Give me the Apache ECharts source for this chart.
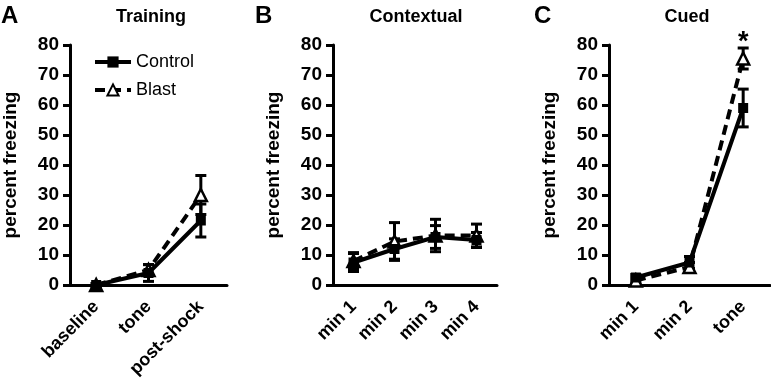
<!DOCTYPE html>
<html>
<head>
<meta charset="utf-8">
<script src="https://cdn.jsdelivr.net/npm/echarts@6/dist/echarts.min.js"></script>
<style>html,body{margin:0;padding:0;background:#fff}#c{width:771px;height:381px}</style>
</head>
<body>
<div id="c"></div>
<script>
// ---- Data ----
const catsA = ['baseline', 'tone', 'post-shock'];
const ctrlA = [0, 4, 21.5];
const ctrlAErr = [0.5, 2.8, 5.5];
const blastA = [0, 5, 30];
const blastAErr = [0.5, 1.8, 6.5];

const catsB = ['min 1', 'min 2', 'min 3', 'min 4'];
const ctrlB = [7.5, 12, 16, 15];
const ctrlBErr = [3, 3.4, 3.8, 2.5];
const blastB = [8, 14.5, 16.5, 16.5];
const blastBErr = [2.8, 6.3, 5.4, 3.8];

const catsC = ['min 1', 'min 2', 'tone'];
const ctrlC = [2.5, 7.5, 59];
const ctrlCErr = [1, 2, 6.3];
const blastC = [1.5, 6, 75.5];
const blastCErr = [1, 1.5, 3.5];

const yTicks = [0, 10, 20, 30, 40, 50, 60, 70, 80];
const panelLetters = ['A', 'B', 'C'];
const panelTitles = ['Training', 'Contextual', 'Cued'];
const seriesNames = ['Control', 'Blast'];
const yTitle = 'percent freezing';
const sigMark = '*';

// ---- Layout ----
const FF = 'Liberation Sans, Arial, Helvetica, sans-serif';
const grids = [
  {left: 70, width: 157},
  {left: 333, width: 164},
  {left: 609, width: 161}
];
const titleX = [151, 416, 687];
const letterX = [1, 255, 534];
const cats = [catsA, catsB, catsC];
const ctrl = [ctrlA, ctrlB, ctrlC];
const ctrlErr = [ctrlAErr, ctrlBErr, ctrlCErr];
const blast = [blastA, blastB, blastC];
const blastErr = [blastAErr, blastBErr, blastCErr];

function errRender(params, api) {
  const x = api.value(0), lo = api.value(1), hi = api.value(2);
  const p1 = api.coord([x, hi]);
  const p2 = api.coord([x, lo]);
  const hw = 5.5;
  const style = {stroke: '#000', lineWidth: 3};
  return {
    type: 'group',
    children: [
      {type: 'line', shape: {x1: p1[0], y1: p1[1], x2: p2[0], y2: p2[1]}, style: style},
      {type: 'line', shape: {x1: p1[0] - hw, y1: p1[1], x2: p1[0] + hw, y2: p1[1]}, style: style},
      {type: 'line', shape: {x1: p2[0] - hw, y1: p2[1], x2: p2[0] + hw, y2: p2[1]}, style: style}
    ]
  };
}

const graphics = [];
for (let i = 0; i < 3; i++) {
  graphics.push({
    type: 'text', x: letterX[i], y: 4,
    style: {text: panelLetters[i], font: 'bold 24px ' + FF, fill: '#000', align: 'left', verticalAlign: 'top'}
  });
  graphics.push({
    type: 'text', x: titleX[i], y: 8,
    style: {text: panelTitles[i], font: 'bold 18px ' + FF, fill: '#000', align: 'center', verticalAlign: 'top'}
  });
}

const option = {
  animation: false,
  backgroundColor: '#fff',
  textStyle: {fontFamily: FF},
  graphic: graphics,
  legend: {
    data: seriesNames,
    orient: 'vertical',
    left: 88,
    top: 48,
    itemWidth: 36,
    itemHeight: 14,
    itemGap: 10,
    selectedMode: false,
    lineStyle: {width: 4},
    textStyle: {fontSize: 18, color: '#000', fontFamily: FF}
  },
  grid: [],
  xAxis: [],
  yAxis: [],
  series: []
};

for (let i = 0; i < 3; i++) {
  option.grid.push({left: grids[i].left, width: grids[i].width, top: 45, height: 240,
    containLabel: false, outerBoundsMode: 'none'});
  option.xAxis.push({
    type: 'category', gridIndex: i, data: cats[i], boundaryGap: true,
    axisLine: {lineStyle: {color: '#000', width: 3}},
    axisTick: {alignWithLabel: true, length: 9, lineStyle: {color: '#000', width: 3}},
    axisLabel: {rotate: 45, interval: 0, margin: 19, fontSize: 18, fontWeight: 'bold', color: '#000', fontFamily: FF},
    splitLine: {show: false}
  });
  option.yAxis.push({
    type: 'value', gridIndex: i, min: yTicks[0], max: yTicks[yTicks.length - 1], interval: yTicks[1] - yTicks[0],
    axisLine: {show: true, lineStyle: {color: '#000', width: 3}},
    axisTick: {show: true, length: 7, lineStyle: {color: '#000', width: 3}},
    axisLabel: {margin: 11, fontSize: 19, fontWeight: 'bold', color: '#000', fontFamily: FF},
    splitLine: {show: false},
    name: yTitle, nameLocation: 'middle', nameRotate: 90, nameGap: 50,
    nameTextStyle: {fontSize: 19, fontWeight: 'bold', color: '#000', fontFamily: FF}
  });
  const errData = [];
  for (let k = 0; k < cats[i].length; k++) {
    errData.push([k, ctrl[i][k] - ctrlErr[i][k], ctrl[i][k] + ctrlErr[i][k]]);
    errData.push([k, blast[i][k] - blastErr[i][k], blast[i][k] + blastErr[i][k]]);
  }
  option.series.push({
    type: 'custom', xAxisIndex: i, yAxisIndex: i, z: 1,
    renderItem: errRender, data: errData, encode: {x: 0, y: [1, 2]}, silent: true
  });
  const blastSeries = {
    name: seriesNames[1], type: 'line', xAxisIndex: i, yAxisIndex: i, z: 2,
    data: blast[i], symbol: 'triangle', symbolSize: 12, showAllSymbol: true,
    itemStyle: {color: '#fff', borderColor: '#000', borderWidth: 2.5},
    lineStyle: {color: '#000', width: 4, type: [10, 6]},
    emphasis: {disabled: true}, silent: true
  };
  if (i === 2) {
    blastSeries.markPoint = {
      symbol: 'circle', symbolSize: 1, itemStyle: {color: 'rgba(0,0,0,0)'},
      data: [{coord: [cats[i].length - 1, blast[i][2] + blastErr[i][2]]}],
      label: {show: true, formatter: sigMark, position: 'top', distance: -9, fontSize: 27, fontWeight: 'bold', color: '#000', fontFamily: FF}
    };
  }
  option.series.push(blastSeries);
  option.series.push({
    name: seriesNames[0], type: 'line', xAxisIndex: i, yAxisIndex: i, z: 3,
    data: ctrl[i], symbol: 'rect', symbolSize: 10, showAllSymbol: true,
    itemStyle: {color: '#000', borderColor: '#000', borderWidth: 0},
    lineStyle: {color: '#000', width: 4, type: 'solid'},
    emphasis: {disabled: true}, silent: true
  });
}

const chart = echarts.init(document.getElementById('c'), null, {renderer: 'canvas'});
chart.setOption(option);
</script>
</body>
</html>
